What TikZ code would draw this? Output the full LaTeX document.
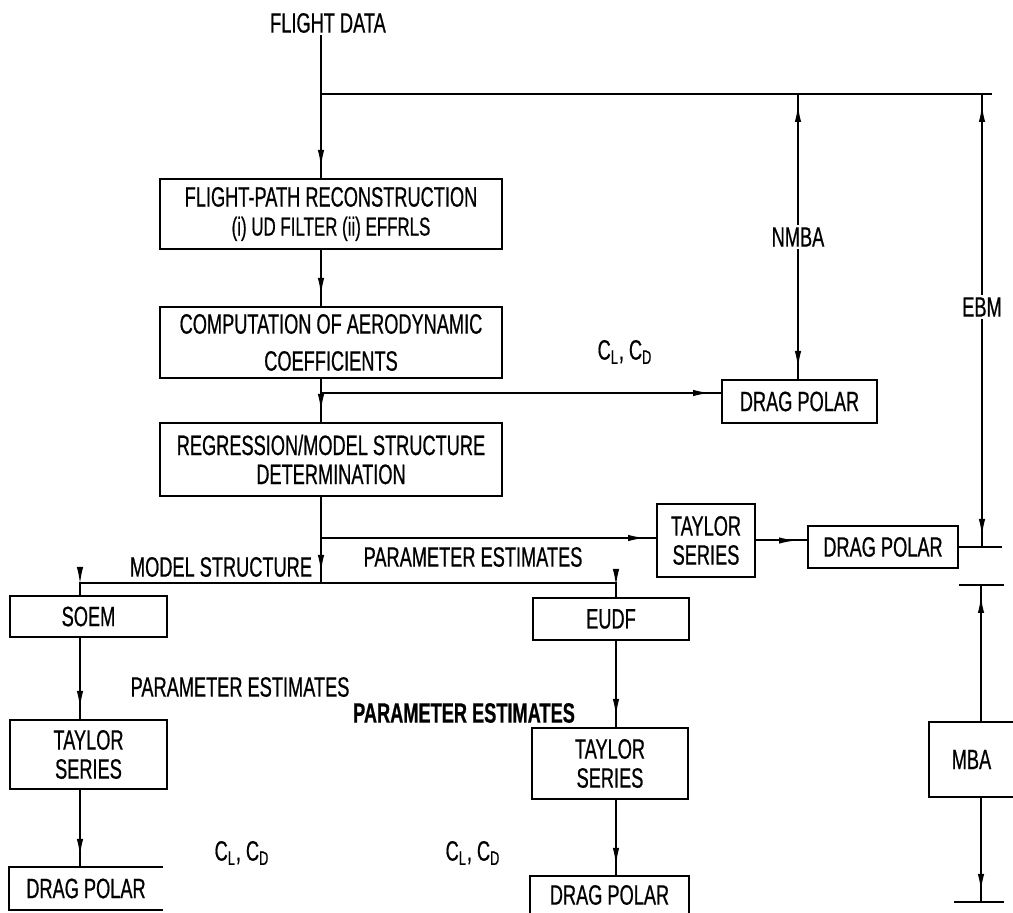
\documentclass[tikz,border=0pt]{standalone}
\usepackage{fontspec}
\setmainfont{Liberation Sans}[FakeStretch=0.65,FakeBold=0.6]
\usetikzlibrary{arrows.meta,decorations.markings,calc}
\tikzset{
  wire/.style={line width=1pt},
  flowarr/.style={wire,
                  decoration={markings,mark=at position -5pt with {\arrow{Latex[length=9pt,width=3.2pt]}}},
                  postaction={decorate}},
  procbox/.style={draw,line width=1pt,align=center,inner sep=2pt,
                  font=\fontsize{14}{14.5}\selectfont},
  openbox/.style={procbox,draw=none},
  tag/.style={inner sep=1pt,font=\fontsize{14}{14.5}\selectfont},
  tbar/.style={line width=1pt}
}

\begin{document}
\begin{tikzpicture}[x=0.5pt,y=-0.5pt]
  \useasboundingbox (0,0) rectangle (1013,913);

  % main column
  \node[tag] (fd) at (328,23) {FLIGHT DATA};
  \node[procbox,minimum width=171pt,minimum height=35pt] (fpr) at (331,214)
    {FLIGHT-PATH RECONSTRUCTION\\{\fontsize{13}{13.5}\selectfont (i) UD FILTER (ii) EFFRLS}};
  \node[procbox,minimum width=171pt,minimum height=35.5pt] (comp) at (331,342.5)
    {COMPUTATION OF AERODYNAMIC\\[4pt]COEFFICIENTS};
  \node[procbox,minimum width=171pt,minimum height=36.5pt] (reg) at (331,459.5)
    {REGRESSION/MODEL STRUCTURE\\DETERMINATION};

  % right branches
  \node[procbox,minimum width=77.5pt,minimum height=21.5pt] (dp1) at (799.5,401.5) {DRAG POLAR};
  \node[procbox,minimum width=49pt,minimum height=36.5pt] (tay1) at (706,540.5) {TAYLOR\\SERIES};
  \node[procbox,minimum width=75pt,minimum height=21pt] (dp2) at (883,547) {DRAG POLAR};
  \node[openbox,minimum width=41.5pt,minimum height=36.5pt] (mba) at (971.5,759.5) {MBA};

  % lower branches
  \node[procbox,minimum width=78.5pt,minimum height=20.5pt] (soem) at (88.5,616.5) {SOEM};
  \node[procbox,minimum width=78.5pt,minimum height=34.5pt] (tay2) at (88.5,754.5) {TAYLOR\\SERIES};
  \node[openbox,minimum width=76pt,minimum height=20.5pt] (dp3) at (86,888.5) {DRAG POLAR};
  \node[procbox,minimum width=78pt,minimum height=21pt] (eudf) at (611,619) {EUDF};
  \node[procbox,minimum width=78pt,minimum height=35.5pt] (tay3) at (610,763.5) {TAYLOR\\SERIES};
  \node[openbox,minimum width=78.5pt,minimum height=18pt] (dp4) at (609.5,895) {DRAG POLAR};

  % labels
  \node[tag] (nmba) at (798,237) {NMBA};
  \node[tag] (ebm) at (982,307) {EBM};
  \node[tag] (cl1) at (625,352) {C\textsubscript{L}, C\textsubscript{D}};
  \node[tag] (ms) at (221,567) {MODEL STRUCTURE};
  \node[tag] (pe1) at (473,557) {PARAMETER ESTIMATES};
  \node[tag] (pe2) at (240,687) {PARAMETER ESTIMATES};
  \node[tag,font=\fontsize{14}{14.5}\selectfont\bfseries] (pe3) at (464,713) {PARAMETER ESTIMATES};
  \node[tag] (cl2) at (242,853) {C\textsubscript{L}, C\textsubscript{D}};
  \node[tag] (cl3) at (473,853) {C\textsubscript{L}, C\textsubscript{D}};

  \coordinate (j0) at (321,94);
  \coordinate (nm0) at (798,94);
  \coordinate (eb0) at (982,94);
  \coordinate (topR) at (992,94);
  \coordinate (br1) at (321,393);
  \coordinate (br2) at (321,538);
  \coordinate (j1) at (321,583);
  \coordinate (j2) at (80,583);
  \coordinate (j3) at (616,583);
  \coordinate (eb1) at (982,547);
  \coordinate (dpR) at (1002,547);
  \coordinate (mb0) at (981,585);
  \coordinate (mb1) at (981,902);
  \coordinate (t1a) at (959,585);
  \coordinate (t1b) at (1004,585);
  \coordinate (t2a) at (954,902);
  \coordinate (t2b) at (1004,902);

  \draw[wire] (fd.south -| j0) -- (j0) -- (topR);
  \draw[flowarr] (j0) -- (j0 |- fpr.north);
  \draw[flowarr] (j0 |- fpr.south) -- (j0 |- comp.north);
  \draw[flowarr] (j0 |- comp.south) -- (j0 |- reg.north);
  \draw[flowarr] (br1) -- (br1 -| dp1.west);
  \draw[flowarr] (j0 |- reg.south) -- (j1);
  \draw[flowarr] (br2) -- (br2 -| tay1.west);
  \draw[flowarr] (tay1.east) -- (tay1.east -| dp2.west);
  \draw[flowarr] (j1) -| (j2 |- soem.north);
  \draw[flowarr] (j1) -| (j3 |- eudf.north);
  \draw[flowarr] (j2 |- soem.south) -- (j2 |- tay2.north);
  \draw[flowarr] (j2 |- tay2.south) -- (j2 |- dp3.north);
  \draw[flowarr] (j3 |- eudf.south) -- (j3 |- tay3.north);
  \draw[flowarr] (j3 |- tay3.south) -- (j3 |- dp4.north);

  % open-sided boxes
  \draw[tbar] (dp3.north east) -- (dp3.north west) -- (dp3.south west) -- (dp3.south east);
  \draw[tbar] (dp4.south west) -- (dp4.north west) -- (dp4.north east) -- (dp4.south east);
  \draw[tbar] (mba.north east) -- (mba.north west) -- (mba.south west) -- (mba.south east);

  % span marks on the right
  \draw[flowarr] (nmba) -- (nm0);
  \draw[flowarr] (nmba) -- (nm0 |- dp1.north);
  \draw[flowarr] (ebm) -- (eb0);
  \draw[flowarr] (ebm) -- (eb1);
  \draw[tbar] (dp2.east) -- (dpR);
  \draw[tbar] (t1a) -- (t1b);
  \draw[flowarr] (mb0 |- mba.north) -- (mb0);
  \draw[flowarr] (mb0 |- mba.south) -- (mb1);
  \draw[tbar] (t2a) -- (t2b);
\end{tikzpicture}
\end{document}
